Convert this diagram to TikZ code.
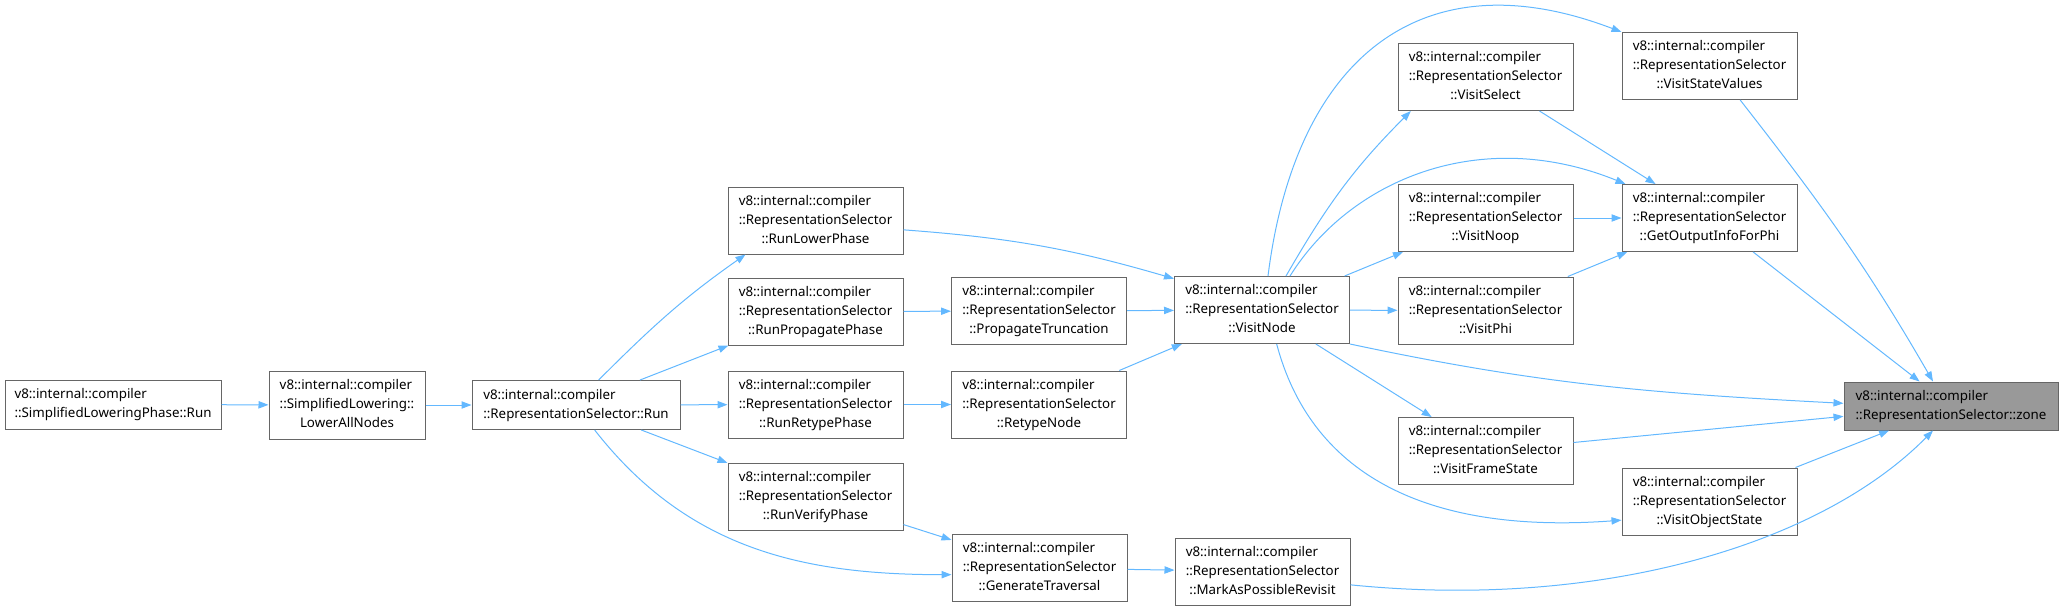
\documentclass[tikz,border=0pt]{standalone}
\usepackage{fontspec}
\setmainfont{Noto Sans}
\usepackage{xcolor}
\usetikzlibrary{arrows.meta}

\definecolor{edgeblue}{HTML}{63B8FF}
\definecolor{boxgray}{HTML}{666666}
\definecolor{zonegray}{HTML}{999999}

\newcommand{\twoline}[2]{\begin{tabular}{@{}l@{}}#1\\#2\end{tabular}}
\newcommand{\threeline}[3]{\begin{tabular}{@{}l@{}}#1\\#2\\\multicolumn{1}{@{}c@{}}{#3}\end{tabular}}
\newcommand{\rsel}[1]{\threeline{v8::internal::compiler}{::RepresentationSelector}{#1}}

\begin{document}
\begin{tikzpicture}[x=0.75pt, y=-0.75pt,
  every node/.style={font=\fontsize{10}{14.25}\selectfont},
  fnbox/.style={draw=boxgray, line width=0.75pt, rectangle, inner sep=2pt,
    minimum width=131.25pt, minimum height=50.25pt},
  calls/.style={draw=edgeblue, line width=0.75pt, -{Triangle[length=7.5pt, width=5.5pt]}}]
  \useasboundingbox (0,0) rectangle (2064,611);

  % callers, left to right
  \node[fnbox, minimum width=162pt, minimum height=36.75pt] (slrun) at (113,404.5) {\twoline{v8::internal::compiler}{::SimplifiedLoweringPhase::Run}};
  \node[fnbox, minimum width=117pt, minimum height=51pt] (lower) at (347,405) {\threeline{v8::internal::compiler}{::SimplifiedLowering::}{LowerAllNodes}};
  \node[fnbox, minimum width=156pt, minimum height=36.75pt] (rsrun) at (576,405) {\twoline{v8::internal::compiler}{::RepresentationSelector::Run}};
  \node[fnbox] (runlower) at (815.5,220.5) {\rsel{::RunLowerPhase}};
  \node[fnbox] (runprop) at (815.5,311.5) {\rsel{::RunPropagatePhase}};
  \node[fnbox] (runretype) at (815.5,404.5) {\rsel{::RunRetypePhase}};
  \node[fnbox] (runverify) at (815.5,496.5) {\rsel{::RunVerifyPhase}};
  \node[fnbox] (proptrunc) at (1039,311) {\rsel{::PropagateTruncation}};
  \node[fnbox] (retype) at (1039,404.5) {\rsel{::RetypeNode}};
  \node[fnbox] (gentrav) at (1039.5,568) {\rsel{::GenerateTraversal}};
  \node[fnbox] (visitnode) at (1262,310) {\rsel{::VisitNode}};
  \node[fnbox] (markrev) at (1262.5,571.5) {\rsel{::MarkAsPossibleRevisit}};
  \node[fnbox] (visitselect) at (1485.5,77) {\rsel{::VisitSelect}};
  \node[fnbox] (visitnoop) at (1485.5,218) {\rsel{::VisitNoop}};
  \node[fnbox] (visitphi) at (1485.5,310.5) {\rsel{::VisitPhi}};
  \node[fnbox] (visitframe) at (1485.5,451) {\rsel{::VisitFrameState}};
  \node[fnbox] (statevalues) at (1709.5,66) {\rsel{::VisitStateValues}};
  \node[fnbox] (getoutput) at (1709.5,218) {\rsel{::GetOutputInfoForPhi}};
  \node[fnbox] (objstate) at (1709.5,501.5) {\rsel{::VisitObjectState}};
  \node[fnbox, fill=zonegray, minimum width=160.5pt, minimum height=36pt] (zone) at (1951,406) {\twoline{v8::internal::compiler}{::RepresentationSelector::zone}};

  % call edges
  \draw[calls] (slrun) -- (lower);
  \draw[calls] (lower) -- (rsrun);
  \draw[calls] ([xshift=17pt]rsrun.north) to[out=45, in=-145] ([xshift=-52.5pt]runlower.south);
  \draw[calls] (rsrun) -- (runprop);
  \draw[calls] (rsrun) -- (runretype);
  \draw[calls] (rsrun) -- (runverify);
  \draw[calls] ([xshift=14pt]rsrun.south) to[out=-52, in=180] ([yshift=-5pt]gentrav.west);
  \draw[calls] ([yshift=-7pt]runlower.east) to[bend left=6] ([yshift=-2pt]visitnode.north west);
  \draw[calls] (runprop) -- (proptrunc);
  \draw[calls] (proptrunc) -- (visitnode);
  \draw[calls] (runretype) -- (retype);
  \draw[calls] (retype) -- (visitnode);
  \draw[calls] (runverify) -- (gentrav);
  \draw[calls] (gentrav) -- (markrev);
  \draw[calls] ([yshift=-10pt]markrev.east) .. controls (1600,610) and (1820,545) .. ([xshift=-13.5pt]zone.south);
  \draw[calls] ([xshift=4.5pt]visitnode.north) .. controls (1295,60) and (1420,-45) .. (statevalues.north west);
  \draw[calls] ([xshift=18pt]visitnode.north) to[out=60, in=-135] ([xshift=10pt]visitselect.south west);
  \draw[calls] ([xshift=21pt]visitnode.north) .. controls (1350,180) and (1480,125) .. ([xshift=3pt]getoutput.north west);
  \draw[calls] (visitnode) -- (visitnoop);
  \draw[calls] (visitnode) -- (visitphi);
  \draw[calls] (visitnode.south east) to[out=-12, in=177] ([yshift=2pt]zone.west);
  \draw[calls] (visitnode) -- (visitframe);
  \draw[calls] ([xshift=11pt]visitnode.south) .. controls (1310,470) and (1420,535) .. ([yshift=-14pt]objstate.west);
  \draw[calls] (visitselect) -- (getoutput);
  \draw[calls] (visitnoop) -- (getoutput);
  \draw[calls] (visitphi) -- (getoutput);
  \draw[calls] ([xshift=23pt]statevalues.south) to[out=-52, in=120] ([xshift=-13.5pt]zone.north);
  \draw[calls] (getoutput) -- (zone);
  \draw[calls] (visitframe) -- (zone);
  \draw[calls] (objstate) -- (zone);
\end{tikzpicture}
\end{document}
